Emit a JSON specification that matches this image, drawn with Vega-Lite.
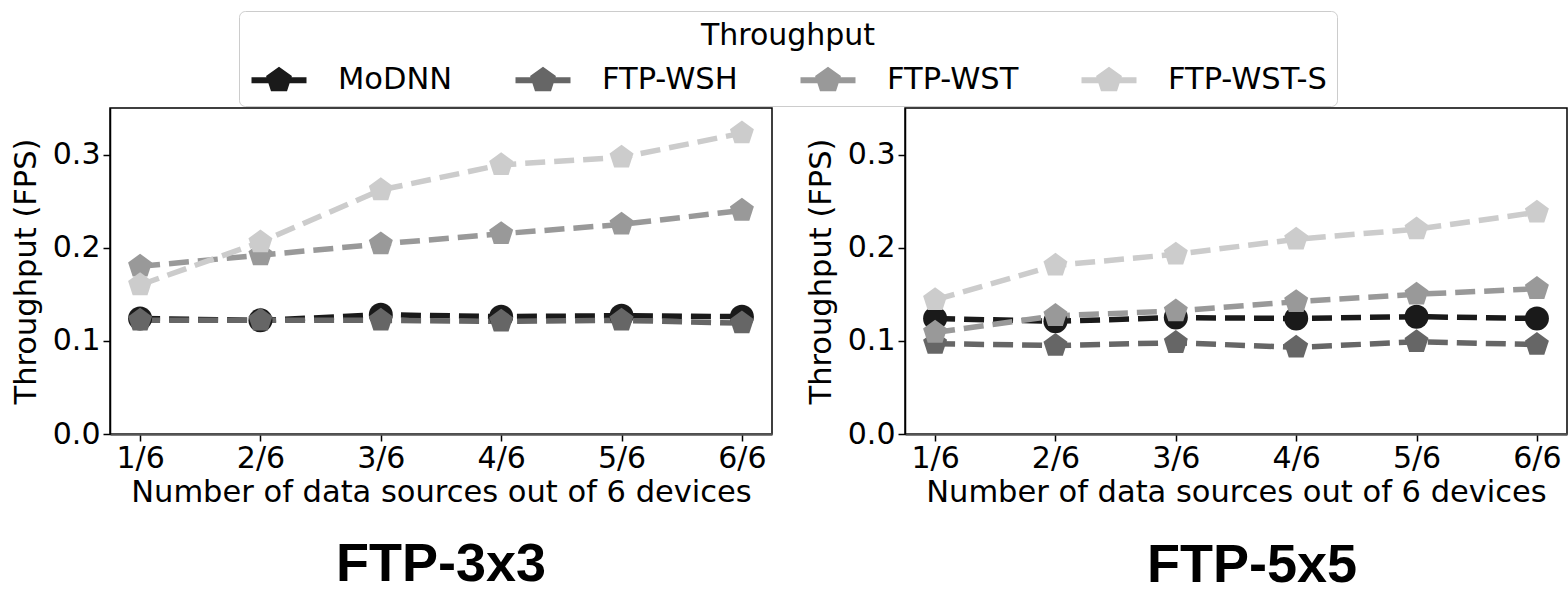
{
  "$schema": "https://vega.github.io/schema/vega-lite/v6.json",
  "padding": {"left": 10, "top": 10, "right": 0, "bottom": 0},
  "background": "white",
  "bounds": "flush",
  "spacing": 133,
  "config": {
    "font": "DejaVu Sans",
    "view": {"stroke": "black", "strokeWidth": 1.5},
    "axis": {"grid": false, "labelFontSize": 30, "titleFontSize": 30.5, "labelColor": "black", "titleColor": "black", "titleFontWeight": "normal", "tickColor": "black", "tickWidth": 1.5, "tickSize": 7, "domainColor": "black", "domainWidth": 1.5}
  },
  "data": {"values": [
    {"panel": "FTP-3x3", "x": "1/6", "series": "MoDNN", "value": 0.124},
    {"panel": "FTP-3x3", "x": "2/6", "series": "MoDNN", "value": 0.122},
    {"panel": "FTP-3x3", "x": "3/6", "series": "MoDNN", "value": 0.128},
    {"panel": "FTP-3x3", "x": "4/6", "series": "MoDNN", "value": 0.126},
    {"panel": "FTP-3x3", "x": "5/6", "series": "MoDNN", "value": 0.127},
    {"panel": "FTP-3x3", "x": "6/6", "series": "MoDNN", "value": 0.126},
    {"panel": "FTP-3x3", "x": "1/6", "series": "FTP-WSH", "value": 0.122},
    {"panel": "FTP-3x3", "x": "2/6", "series": "FTP-WSH", "value": 0.122},
    {"panel": "FTP-3x3", "x": "3/6", "series": "FTP-WSH", "value": 0.122},
    {"panel": "FTP-3x3", "x": "4/6", "series": "FTP-WSH", "value": 0.121},
    {"panel": "FTP-3x3", "x": "5/6", "series": "FTP-WSH", "value": 0.122},
    {"panel": "FTP-3x3", "x": "6/6", "series": "FTP-WSH", "value": 0.119},
    {"panel": "FTP-3x3", "x": "1/6", "series": "FTP-WST", "value": 0.180},
    {"panel": "FTP-3x3", "x": "2/6", "series": "FTP-WST", "value": 0.192},
    {"panel": "FTP-3x3", "x": "3/6", "series": "FTP-WST", "value": 0.204},
    {"panel": "FTP-3x3", "x": "4/6", "series": "FTP-WST", "value": 0.215},
    {"panel": "FTP-3x3", "x": "5/6", "series": "FTP-WST", "value": 0.225},
    {"panel": "FTP-3x3", "x": "6/6", "series": "FTP-WST", "value": 0.240},
    {"panel": "FTP-3x3", "x": "1/6", "series": "FTP-WST-S", "value": 0.160},
    {"panel": "FTP-3x3", "x": "2/6", "series": "FTP-WST-S", "value": 0.206},
    {"panel": "FTP-3x3", "x": "3/6", "series": "FTP-WST-S", "value": 0.262},
    {"panel": "FTP-3x3", "x": "4/6", "series": "FTP-WST-S", "value": 0.289},
    {"panel": "FTP-3x3", "x": "5/6", "series": "FTP-WST-S", "value": 0.297},
    {"panel": "FTP-3x3", "x": "6/6", "series": "FTP-WST-S", "value": 0.323},
    {"panel": "FTP-5x5", "x": "1/6", "series": "MoDNN", "value": 0.124},
    {"panel": "FTP-5x5", "x": "2/6", "series": "MoDNN", "value": 0.121},
    {"panel": "FTP-5x5", "x": "3/6", "series": "MoDNN", "value": 0.125},
    {"panel": "FTP-5x5", "x": "4/6", "series": "MoDNN", "value": 0.124},
    {"panel": "FTP-5x5", "x": "5/6", "series": "MoDNN", "value": 0.126},
    {"panel": "FTP-5x5", "x": "6/6", "series": "MoDNN", "value": 0.124},
    {"panel": "FTP-5x5", "x": "1/6", "series": "FTP-WSH", "value": 0.097},
    {"panel": "FTP-5x5", "x": "2/6", "series": "FTP-WSH", "value": 0.095},
    {"panel": "FTP-5x5", "x": "3/6", "series": "FTP-WSH", "value": 0.098},
    {"panel": "FTP-5x5", "x": "4/6", "series": "FTP-WSH", "value": 0.093},
    {"panel": "FTP-5x5", "x": "5/6", "series": "FTP-WSH", "value": 0.099},
    {"panel": "FTP-5x5", "x": "6/6", "series": "FTP-WSH", "value": 0.096},
    {"panel": "FTP-5x5", "x": "1/6", "series": "FTP-WST", "value": 0.109},
    {"panel": "FTP-5x5", "x": "2/6", "series": "FTP-WST", "value": 0.127},
    {"panel": "FTP-5x5", "x": "3/6", "series": "FTP-WST", "value": 0.132},
    {"panel": "FTP-5x5", "x": "4/6", "series": "FTP-WST", "value": 0.142},
    {"panel": "FTP-5x5", "x": "5/6", "series": "FTP-WST", "value": 0.150},
    {"panel": "FTP-5x5", "x": "6/6", "series": "FTP-WST", "value": 0.156},
    {"panel": "FTP-5x5", "x": "1/6", "series": "FTP-WST-S", "value": 0.144},
    {"panel": "FTP-5x5", "x": "2/6", "series": "FTP-WST-S", "value": 0.181},
    {"panel": "FTP-5x5", "x": "3/6", "series": "FTP-WST-S", "value": 0.193},
    {"panel": "FTP-5x5", "x": "4/6", "series": "FTP-WST-S", "value": 0.209},
    {"panel": "FTP-5x5", "x": "5/6", "series": "FTP-WST-S", "value": 0.220},
    {"panel": "FTP-5x5", "x": "6/6", "series": "FTP-WST-S", "value": 0.238}
  ]},
  "hconcat": [
    {
      "width": 662, "height": 326,
      "title": {"text": "FTP-3x3", "orient": "bottom", "font": "Liberation Sans", "fontSize": 54, "fontWeight": "bold", "color": "black", "offset": 30},
      "transform": [{"filter": "datum.panel === 'FTP-3x3'"}],
      "encoding": {
        "x": {"field": "x", "type": "ordinal", "scale": {"type": "point", "domain": ["1/6", "2/6", "3/6", "4/6", "5/6", "6/6"], "padding": 0.25}, "axis": {"title": "Number of data sources out of 6 devices", "labelAngle": 0, "labelPadding": 2, "titlePadding": 4, "domainColor": "#555555", "domainWidth": 2.5}},
        "y": {"field": "value", "type": "quantitative", "scale": {"domain": [0, 0.35], "nice": false, "zero": true}, "axis": {"title": "Throughput (FPS)", "values": [0, 0.1, 0.2, 0.3], "format": ".1f", "labelPadding": 3, "titlePadding": 11}}
      },
      "layer": [
        {"mark": {"type": "line", "strokeWidth": 5.5, "strokeDash": [20, 9]},
         "encoding": {"stroke": {"field": "series", "type": "nominal", "scale": {"domain": ["FTP-WST-S", "FTP-WST", "FTP-WSH", "MoDNN"], "range": ["#cccccc", "#999999", "#666666", "#1a1a1a"]}, "legend": null}}},
        {"transform": [{"filter": "datum.series === 'MoDNN'"}],
         "mark": {"type": "point", "filled": true, "opacity": 1, "size": 576, "shape": "circle"},
         "encoding": {
           "color": {"field": "series", "type": "nominal", "scale": {"domain": ["MoDNN", "FTP-WSH", "FTP-WST", "FTP-WST-S"], "range": ["#1a1a1a", "#666666", "#999999", "#cccccc"]},
             "legend": {"title": "Throughput", "orient": "none", "legendX": 129, "legendY": -97, "direction": "horizontal", "columns": 4, "titleAnchor": "middle", "titleFontSize": 30, "titleFontWeight": "normal", "titleColor": "black", "titlePadding": 9, "labelFontSize": 30.5, "labelColor": "black", "labelOffset": 39, "columnPadding": 60, "padding": 10, "symbolOffset": 10, "symbolSize": 1600, "symbolStrokeWidth": 0, "symbolType": "M-1.375,-0.15L1.375,-0.15L1.375,0.15L-1.375,0.15ZM0,-0.68L0.647,-0.21L0.4,0.55L-0.4,0.55L-0.647,-0.21Z", "strokeColor": "#cccccc", "fillColor": "white", "cornerRadius": 6,
               "encode": {"symbols": {
                 "shape": {"condition": {"test": "datum.value === 'MoDNN'", "value": "M-1.375,-0.15L1.375,-0.15L1.375,0.15L-1.375,0.15ZM-0.65,0A0.65,0.65,0,1,1,0.65,0A0.65,0.65,0,1,1,-0.65,0Z"}, "value": "M-1.375,-0.15L1.375,-0.15L1.375,0.15L-1.375,0.15ZM0,-0.68L0.647,-0.21L0.4,0.55L-0.4,0.55L-0.647,-0.21Z"},
                 "size": {"value": 1600},
                 "strokeWidth": {"value": 0},
                 "opacity": {"value": 1}
               }}}}
         }},
        {"transform": [{"filter": "datum.series !== 'MoDNN'"}],
         "mark": {"type": "point", "filled": true, "opacity": 1, "size": 576, "shape": "M0,-1.05L0.999,-0.324L0.617,0.849L-0.617,0.849L-0.999,-0.324Z"},
         "encoding": {
           "color": {"field": "series", "type": "nominal", "scale": {"domain": ["MoDNN", "FTP-WSH", "FTP-WST", "FTP-WST-S"], "range": ["#1a1a1a", "#666666", "#999999", "#cccccc"]}}
         }}
      ]
    },
    {
      "width": 662, "height": 326,
      "title": {"text": "FTP-5x5", "orient": "bottom", "font": "Liberation Sans", "fontSize": 54, "fontWeight": "bold", "color": "black", "offset": 31, "dx": 16},
      "transform": [{"filter": "datum.panel === 'FTP-5x5'"}],
      "encoding": {
        "x": {"field": "x", "type": "ordinal", "scale": {"type": "point", "domain": ["1/6", "2/6", "3/6", "4/6", "5/6", "6/6"], "padding": 0.25}, "axis": {"title": "Number of data sources out of 6 devices", "labelAngle": 0, "labelPadding": 2, "titlePadding": 4, "domainColor": "#555555", "domainWidth": 2.5}},
        "y": {"field": "value", "type": "quantitative", "scale": {"domain": [0, 0.35], "nice": false, "zero": true}, "axis": {"title": "Throughput (FPS)", "values": [0, 0.1, 0.2, 0.3], "format": ".1f", "labelPadding": 3, "titlePadding": 11}}
      },
      "layer": [
        {"mark": {"type": "line", "strokeWidth": 5.5, "strokeDash": [20, 9]},
         "encoding": {"stroke": {"field": "series", "type": "nominal", "scale": {"domain": ["FTP-WST-S", "FTP-WST", "FTP-WSH", "MoDNN"], "range": ["#cccccc", "#999999", "#666666", "#1a1a1a"]}, "legend": null}}},
        {"transform": [{"filter": "datum.series === 'MoDNN'"}],
         "mark": {"type": "point", "filled": true, "opacity": 1, "size": 576, "shape": "circle"},
         "encoding": {
           "color": {"field": "series", "type": "nominal", "scale": {"domain": ["MoDNN", "FTP-WSH", "FTP-WST", "FTP-WST-S"], "range": ["#1a1a1a", "#666666", "#999999", "#cccccc"]}}
         }},
        {"transform": [{"filter": "datum.series !== 'MoDNN'"}],
         "mark": {"type": "point", "filled": true, "opacity": 1, "size": 576, "shape": "M0,-1.05L0.999,-0.324L0.617,0.849L-0.617,0.849L-0.999,-0.324Z"},
         "encoding": {
           "color": {"field": "series", "type": "nominal", "scale": {"domain": ["MoDNN", "FTP-WSH", "FTP-WST", "FTP-WST-S"], "range": ["#1a1a1a", "#666666", "#999999", "#cccccc"]}}
         }}
      ]
    }
  ]
}
